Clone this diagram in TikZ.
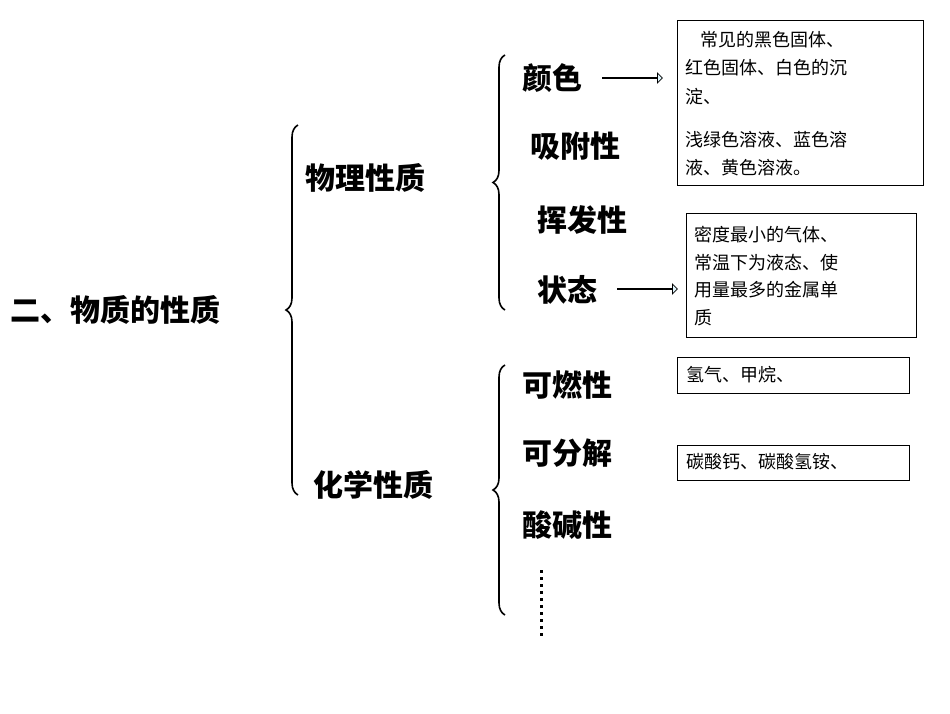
\documentclass[tikz,border=0pt]{standalone}
\usepackage{fontspec}
\newfontfamily\cjk{Noto Sans CJK SC}
\usetikzlibrary{decorations.pathreplacing,shapes.arrows}
\begin{document}
\begin{tikzpicture}[x=1pt,y=-1pt,
  big/.style={font=\cjk\bfseries\fontsize{30}{30}\selectfont,inner sep=0pt,anchor=west},
  small/.style={font=\cjk\fontsize{18}{18}\selectfont,inner sep=0pt,anchor=west},
  brc/.style={decorate,decoration={brace,amplitude=12pt,aspect=#1},line width=1.6pt},
  box/.style={draw,line width=0.8pt},
  blk/.style={draw,line width=0.8pt,fill=cyan!12,single arrow,single arrow head extend=3pt,minimum height=60pt,minimum width=10pt,inner sep=0pt,anchor=west}]
\useasboundingbox (0,0) rectangle (950,713);
\node[big] (root) at (10,310) {二、物质的性质};
\draw[brc=0.5] (298,495) -- (298,125);
\node[big] (phy) at (305,178) {物理性质};
\node[big] (chem) at (313,485) {化学性质};
\draw[brc=0.5] (505,310) -- (505,55);
\draw[brc=0.5] (505,615) -- (505,365);
\node[big] (c1) at (522,78) {颜色};
\node[big] (c2) at (530,146) {吸附性};
\node[big] (c3) at (537,220) {挥发性};
\node[big] (c4) at (537,290) {状态};
\node[big] (d1) at (522,385) {可燃性};
\node[big] (d2) at (522,453) {可分解};
\node[big] (d3) at (522,525) {酸碱性};
\draw[line width=3pt,dash pattern=on 3pt off 4pt] (541,570) coordinate (dt) -- (541,637);
\node[blk] (a1) at (602,78) {};
\node[blk] (a2) at (617,289) {};
\draw[box] (677,20) rectangle (923,185);
\node[small] (b11) at (700,40) {常见的黑色固体、};
\node[small] (b12) at (685,68) {红色固体、白色的沉};
\node[small] (b13) at (685,97) {淀、};
\node[small] (b14) at (685,140) {浅绿色溶液、蓝色溶};
\node[small] (b15) at (685,168) {液、黄色溶液。};
\draw[box] (686,213) rectangle (916,337);
\node[small] (b21) at (694,235) {密度最小的气体、};
\node[small] (b22) at (694,263) {常温下为液态、使};
\node[small] (b23) at (694,290) {用量最多的金属单};
\node[small] (b24) at (694,318) {质};
\draw[box] (677,357) rectangle (909,393);
\node[small] (b3) at (686,375) {氢气、甲烷、};
\draw[box] (677,445) rectangle (909,480);
\node[small] (b4) at (686,462) {碳酸钙、碳酸氢铵、};
\end{tikzpicture}
\end{document}
